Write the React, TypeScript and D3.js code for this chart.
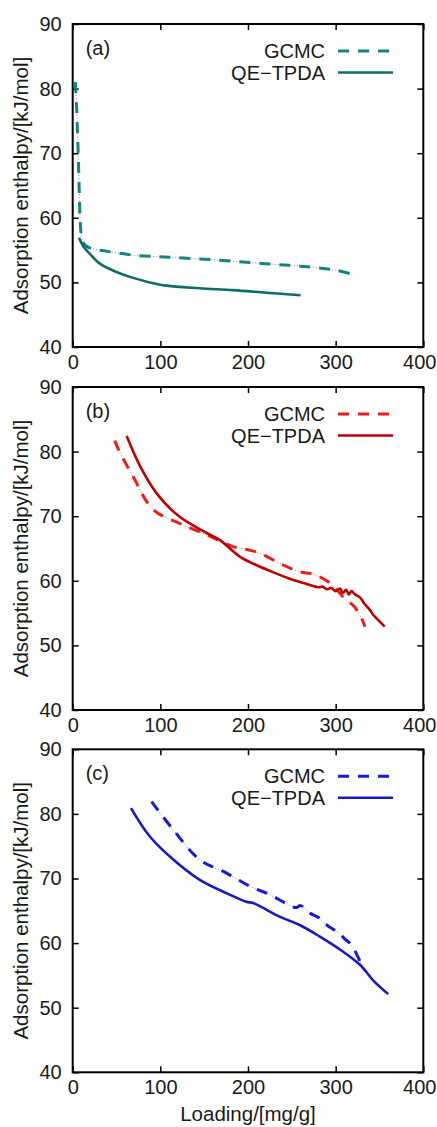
import React, { useEffect, useRef } from "react";
import * as d3 from "d3";

type Pt = [number, number];

const xTicks = [0, 100, 200, 300, 400];
const yTicks = [40, 50, 60, 70, 80, 90];
const seriesNames = ["GCMC", "QE\u2212TPDA"];
const panelLabels = ["(a)", "(b)", "(c)"];

// (a) teal
const gcmcA: Pt[] = [
  [3, 81], [4.5, 77], [5.5, 73], [6.5, 69], [7.5, 64], [8.5, 59.6], [10, 57.2],
  [13, 55.9], [20, 55.3], [40, 54.8], [70, 54.2], [110, 53.9], [160, 53.5],
  [220, 52.9], [260, 52.5], [300, 51.9], [318, 51.3],
];
const qeA: Pt[] = [
  [7.2, 56.9], [12, 55.6], [19.7, 54.4], [31, 52.9], [50, 51.6], [69, 50.7],
  [88, 50.0], [107, 49.5], [145, 49.1], [183, 48.8], [221, 48.4], [260, 48.0],
];

// (b) red
const gcmcB: Pt[] = [
  [48, 81.7], [52, 80.4], [69, 76.1], [92, 71.0], [122, 68.9], [153, 67.1],
  [183, 65.3], [200, 64.8], [215, 64.2], [236, 62.7], [259, 61.4], [275, 61.0],
  [294, 59.6], [312, 57.0], [320, 56.2], [328, 54.6], [333.5, 52.9],
];
const qeB: Pt[] = [
  [61.6, 82.4], [77, 77.7], [96, 73.5], [122, 69.9], [153, 67.4], [168, 66.3],
  [191, 63.7], [210, 62.4], [229, 61.3], [250, 60.2], [267, 59.5], [280, 59.0],
  [285, 59.1], [290, 58.7], [295, 58.9], [300, 58.4], [305, 58.8], [308, 58.1],
  [312, 58.6], [315, 57.9], [318, 58.4], [322, 57.9], [328, 57.4], [332, 56.6],
  [339, 55.5], [343, 54.7], [348, 54.0], [356, 52.9],
];

// (c) blue
const gcmcC: Pt[] = [
  [90, 81.9], [115, 77.5], [145, 72.9], [176, 70.8], [202, 68.8], [225, 67.5],
  [244, 66.1], [255, 65.5], [260, 65.8], [271, 64.6], [280, 64.0], [284, 63.4],
  [290, 62.8], [294, 62.4], [299, 62.0], [304, 61.6], [310, 60.7], [316, 60.0],
  [322, 58.8], [330, 56.5],
];
const qeC: Pt[] = [
  [66.5, 80.9], [88, 76.5], [115, 72.9], [145, 69.8], [176, 67.7], [198, 66.4],
  [206, 66.2], [236, 64.1], [259, 62.8], [282, 61.0], [305, 59.0], [328, 56.6],
  [343, 54.2], [360, 52.1],
];

const gcmcSeries = [gcmcA, gcmcB, gcmcC];
const qeSeries = [qeA, qeB, qeC];
const dashColors = ["#138480", "#ee1c1c", "#1717e8"];
const solidColors = ["#0c6d69", "#c00000", "#1818c8"];

const W = 437;
const H = 1127;
const left = 72.7;
const right = 423.3;
const plotH = 323;
const panelTops = [24, 387, 749.3];
const font = "'Liberation Sans', Arial, Helvetica, sans-serif";

function Chart() {
  const svgRef = useRef<SVGSVGElement>(null);

  useEffect(() => {
    const svg = d3.select(svgRef.current);
    svg.selectAll("*").remove();

    const xScale = d3.scaleLinear().domain([0, 400]).range([left, right]);

    panelTops.forEach((top, i) => {
      const bottom = top + plotH;
      const yScale = d3.scaleLinear().domain([40, 90]).range([bottom, top]);
      const g = svg.append("g");

      const lineGen = d3
        .line<Pt>()
        .x((d) => xScale(d[0]))
        .y((d) => yScale(d[1]))
        .curve(d3.curveCatmullRom.alpha(0.5));

      // axes with inward ticks on all four sides
      const axes = [
        { ax: d3.axisLeft(yScale).tickValues(yTicks).tickSize(-6).tickPadding(11), t: `translate(${left},0)` },
        { ax: d3.axisRight(yScale).tickValues(yTicks).tickSize(-6).tickFormat(() => ""), t: `translate(${right},0)` },
        { ax: d3.axisBottom(xScale).tickValues(xTicks).tickSize(-6).tickPadding(8), t: `translate(0,${bottom})` },
        { ax: d3.axisTop(xScale).tickValues(xTicks).tickSize(-6).tickFormat(() => ""), t: `translate(0,${top})` },
      ];
      axes.forEach(({ ax, t }) => {
        const a = g.append("g").attr("transform", t).call(ax as any);
        a.select(".domain").remove();
        a.selectAll("line").attr("stroke", "#000").attr("stroke-width", 1.5);
        a.selectAll("text")
          .attr("font-family", font)
          .attr("font-size", 20)
          .attr("fill", "#1a1a1a");
      });
      // keep the last x label inside the page
      g.selectAll<SVGTextElement, number>("text")
        .filter((d) => d === 400)
        .attr("dx", -4);

      // gray dotted guide behind the GCMC curve
      g.append("path")
        .datum(gcmcSeries[i])
        .attr("d", lineGen)
        .attr("fill", "none")
        .attr("stroke", "#9a9a9a")
        .attr("stroke-width", 1)
        .attr("stroke-dasharray", "1.2,2");

      g.append("path")
        .datum(gcmcSeries[i])
        .attr("d", lineGen)
        .attr("fill", "none")
        .attr("stroke", dashColors[i])
        .attr("stroke-width", 3)
        .attr("stroke-dasharray", "11,9");

      g.append("path")
        .datum(qeSeries[i])
        .attr("d", lineGen)
        .attr("fill", "none")
        .attr("stroke", solidColors[i])
        .attr("stroke-width", 2.6)
        .attr("stroke-linejoin", "round");

      // frame
      g.append("rect")
        .attr("x", left)
        .attr("y", top)
        .attr("width", right - left)
        .attr("height", plotH)
        .attr("fill", "none")
        .attr("stroke", "#000")
        .attr("stroke-width", 2);

      // panel label
      g.append("text")
        .attr("x", left + 13)
        .attr("y", top + 31)
        .attr("font-family", font)
        .attr("font-size", 20)
        .attr("fill", "#1a1a1a")
        .text(panelLabels[i]);

      // legend
      const legend = g.append("g");
      seriesNames.forEach((name, k) => {
        const ly = top + 27 + k * 21.5;
        legend
          .append("text")
          .attr("x", 325)
          .attr("y", ly + 7)
          .attr("text-anchor", "end")
          .attr("font-family", font)
          .attr("font-size", 20)
          .attr("fill", "#1a1a1a")
          .text(name);
        legend
          .append("line")
          .attr("x1", 338)
          .attr("x2", 393)
          .attr("y1", ly)
          .attr("y2", ly)
          .attr("stroke", k === 0 ? dashColors[i] : solidColors[i])
          .attr("stroke-width", k === 0 ? 3 : 2.6)
          .attr("stroke-dasharray", k === 0 ? "11,9" : null);
      });

      // y-axis title
      g.append("text")
        .attr("transform", `translate(28,${(top + bottom) / 2}) rotate(-90)`)
        .attr("text-anchor", "middle")
        .attr("font-family", font)
        .attr("font-size", 20.5)
        .attr("fill", "#1a1a1a")
        .text("Adsorption enthalpy/[kJ/mol]");
    });

    svg
      .append("text")
      .attr("x", (left + right) / 2)
      .attr("y", 1121)
      .attr("text-anchor", "middle")
      .attr("font-family", font)
      .attr("font-size", 20.5)
      .attr("fill", "#1a1a1a")
      .text("Loading/[mg/g]");
  }, []);

  return (
    <svg
      ref={svgRef}
      width={W}
      height={H}
      style={{ position: "absolute", left: 0, top: 0, background: "#fff" }}
    />
  );
}

export default function App() {
  return <Chart />;
}
